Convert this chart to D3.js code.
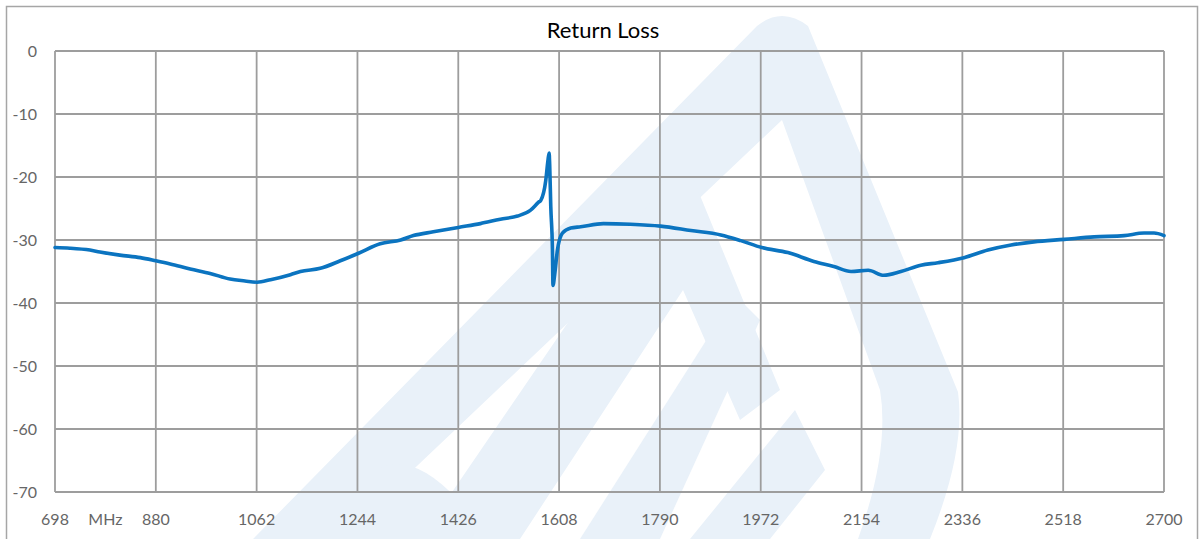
<!DOCTYPE html>
<html>
<head>
<meta charset="utf-8">
<script src="https://cdn.jsdelivr.net/npm/d3@7"></script>
<style>
  html, body { margin: 0; padding: 0; background: #fff; }
  svg { display: block; }
</style>
</head>
<body>
<svg id="chart" width="1202" height="539"></svg>
<script>
// ---- data ----
const freqs = [698, 725, 761, 779, 815, 852, 880, 906, 942, 978, 1014, 1041, 1063, 1087, 1123, 1141, 1177, 1213, 1246, 1285, 1322, 1345, 1381, 1426, 1466, 1502, 1533, 1556, 1571, 1575, 1584, 1588, 1590, 1591, 1593, 1596, 1597, 1600, 1605, 1614, 1629, 1647, 1688, 1737, 1791, 1846, 1900, 1936, 1974, 2021, 2068, 2104, 2135, 2166, 2194, 2225, 2261, 2292, 2339, 2382, 2424, 2465, 2520, 2574, 2628, 2664, 2682, 2700];
const returnLoss = [-31.2, -31.3, -31.6, -31.9, -32.4, -32.8, -33.3, -33.8, -34.6, -35.3, -36.2, -36.5, -36.7, -36.3, -35.5, -35.0, -34.5, -33.3, -32.1, -30.6, -30.0, -29.3, -28.7, -28.0, -27.4, -26.7, -26.2, -25.3, -24.0, -23.7, -20.5, -17.3, -16.2, -18.0, -24.7, -31.6, -37.2, -35.5, -31.6, -28.9, -28.1, -27.9, -27.4, -27.5, -27.8, -28.5, -29.2, -30.1, -31.2, -32.0, -33.4, -34.2, -35.0, -34.8, -35.6, -35.0, -34.0, -33.6, -32.8, -31.6, -30.8, -30.3, -29.9, -29.5, -29.3, -28.9, -28.9, -29.3];
const xTicks = [698, 880, 1062, 1244, 1426, 1608, 1790, 1972, 2154, 2336, 2518, 2700];
const yTicks = [0, -10, -20, -30, -40, -50, -60, -70];
const title = "Return Loss";
const unitLabel = "MHz";

// ---- layout ----
const plot = { left: 55, right: 1164, top: 51, bottom: 492 };
const svg = d3.select("#chart");
const font = "Lato, 'Open Sans', sans-serif";

// watermark (decorative)
const wm = svg.append("g").attr("fill", "#e9f1f9");
const wmShapes = [
  "M253,539 L757,26 Q782,6 808,26 L958,392 Q966,450 930,539 L858,539 Q890,450 880,390 L782,120 L340,539 Z",
  "M420,539 L668,176 Q680,160 692,176 L780,390 L740,420 L683,290 L520,539 Z",
  "M580,539 L735,295 L760,320 L660,539 Z",
  "M330,539 Q365,455 405,465 Q440,470 490,539 Z",
  "M690,539 L795,410 L825,470 L770,539 Z"
];
wm.selectAll("path").data(wmShapes).join("path").attr("d", d => d);

// outer border
svg.append("rect")
  .attr("x", 6.5).attr("y", 6.5).attr("width", 1191).attr("height", 540)
  .attr("fill", "none").attr("stroke", "#a6a6a6").attr("stroke-width", 1.5);

const x = d3.scaleLinear().domain([698, 2700]).range([plot.left, plot.right]);
const y = d3.scaleLinear().domain([-70, 0]).range([plot.bottom, plot.top]);

// gridlines
const grid = svg.append("g").attr("stroke", "#9d9d9d").attr("stroke-width", 1.8);
grid.selectAll("line.v").data(xTicks).join("line").attr("class", "v")
  .attr("x1", d => x(d)).attr("x2", d => x(d))
  .attr("y1", plot.top).attr("y2", plot.bottom);
grid.selectAll("line.h").data(yTicks).join("line").attr("class", "h")
  .attr("x1", plot.left).attr("x2", plot.right)
  .attr("y1", d => y(d)).attr("y2", d => y(d));

// y labels
svg.append("g").selectAll("text").data(yTicks).join("text")
  .attr("x", 37).attr("y", d => y(d) + 6)
  .attr("text-anchor", "end")
  .attr("font-family", font).attr("font-size", 16).attr("fill", "#666666")
  .text(d => d);

// x labels
svg.append("g").selectAll("text").data(xTicks).join("text")
  .attr("x", d => x(d)).attr("y", 525)
  .attr("text-anchor", "middle")
  .attr("font-family", font).attr("font-size", 16).attr("fill", "#666666")
  .text(d => d);

svg.append("text")
  .attr("x", (x(698) + x(880)) / 2).attr("y", 525)
  .attr("text-anchor", "middle")
  .attr("font-family", font).attr("font-size", 16).attr("fill", "#666666")
  .text(unitLabel);

// title
svg.append("text")
  .attr("x", 603).attr("y", 38)
  .attr("text-anchor", "middle")
  .attr("font-family", font).attr("font-size", 22).attr("fill", "#000")
  .text(title);

// line
const data = freqs.map((f, i) => ({ f, v: returnLoss[i] }));
const line = d3.line().x(d => x(d.f)).y(d => y(d.v)).curve(d3.curveMonotoneX);
svg.append("path").datum(data)
  .attr("d", line)
  .attr("fill", "none")
  .attr("stroke", "#0b74c0")
  .attr("stroke-width", 3.6)
  .attr("stroke-linejoin", "round")
  .attr("stroke-linecap", "round");
</script>
</body>
</html>
